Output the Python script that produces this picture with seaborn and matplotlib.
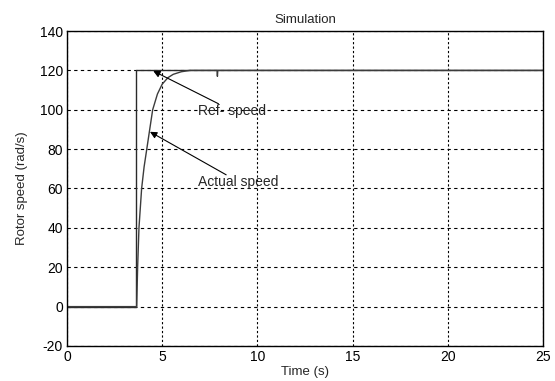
import matplotlib
matplotlib.use("Agg")
import matplotlib.pyplot as plt
import seaborn as sns
import pandas as pd

# Reference speed (step)
ref_t = [0, 3.64, 3.64, 25]
ref_v = [0, 0, 120, 120]

# Actual speed response
act_t = [0, 3.66, 3.71, 3.78, 3.92, 4.05, 4.19, 4.36, 4.5, 4.75, 5.0, 5.3, 5.58, 6.0, 6.46, 7.88, 7.9, 7.92, 25]
act_v = [0, 0, 20, 40, 60, 71, 80, 91, 100, 108, 113, 116.3, 118, 119.3, 120, 120, 117, 120, 120]

x_ticks = [0, 5, 10, 15, 20, 25]
y_ticks = [-20, 0, 20, 40, 60, 80, 100, 120, 140]

title = "Simulation"
x_label = "Time (s)"
y_label = "Rotor speed (rad/s)"
ref_label = "Ref- speed"
act_label = "Actual speed"

sns.set_style("white")
plt.rcParams['font.family'] = ['Liberation Sans', 'DejaVu Sans']

fig = plt.figure(figsize=(5.55, 3.81), dpi=100)
ax = fig.add_axes([0.1207, 0.0919, 0.8577, 0.8267])

ref_df = pd.DataFrame({"t": ref_t, "v": ref_v})
act_df = pd.DataFrame({"t": act_t, "v": act_v})

sns.lineplot(data=ref_df, x="t", y="v", ax=ax, estimator=None, sort=False,
             color="#2a2a2a", linewidth=1.0)
sns.lineplot(data=act_df, x="t", y="v", ax=ax, estimator=None, sort=False,
             color="#3c3c3c", linewidth=1.0)

ax.set_xlim(0, 25)
ax.set_ylim(-20, 140)
ax.set_xticks(x_ticks)
ax.set_yticks(y_ticks)
ax.set_xticklabels([str(v) for v in x_ticks], fontsize=10)
ax.set_yticklabels([str(v) for v in y_ticks], fontsize=10)
ax.tick_params(direction="in", length=3, width=0.8, colors="black", pad=3)

ax.grid(True, axis="y", color="black", linestyle=(0, (3, 3)), linewidth=0.8)
ax.grid(True, axis="x", color="black", linestyle=(0, (2, 2)), linewidth=0.8)
for s in ax.spines.values():
    s.set_visible(True)
    s.set_color("black")
    s.set_linewidth(1.0)

ax.set_title(title, fontsize=9.5, pad=6)
ax.set_xlabel(x_label, fontsize=9.5, labelpad=1)
ax.set_ylabel(y_label, fontsize=9.5, labelpad=8)

arrow = dict(arrowstyle="-|>", color="black", lw=0.8, mutation_scale=10, shrinkA=0, shrinkB=0)
ax.annotate(ref_label, xy=(4.53, 119.7), xytext=(6.9, 99.5), fontsize=10,
            va="center", ha="left", arrowprops=arrow,
            bbox=dict(boxstyle="square,pad=0", fc="none", ec="none"))
ax.annotate(act_label, xy=(4.36, 88.8), xytext=(6.9, 63.4), fontsize=10,
            va="center", ha="left", arrowprops=arrow,
            bbox=dict(boxstyle="square,pad=0", fc="none", ec="none"))

fig.savefig("out.png", dpi=100)
